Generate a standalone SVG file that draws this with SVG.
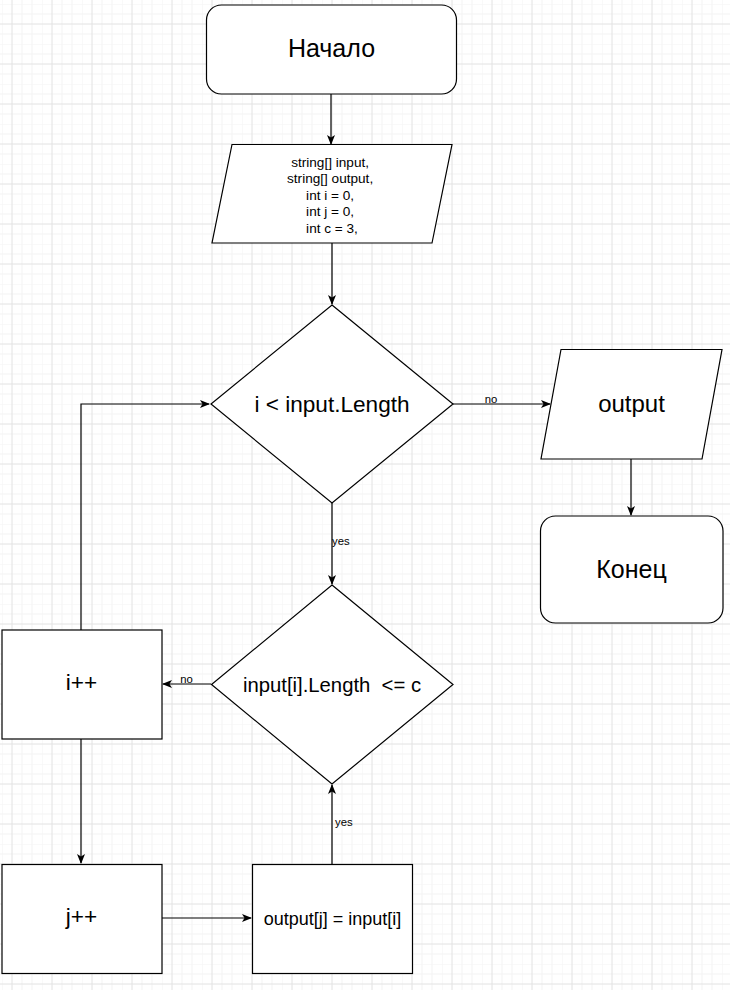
<svg xmlns="http://www.w3.org/2000/svg" width="730" height="990" viewBox="0 0 730 990">
<style>
.shape{fill:#ffffff;stroke:#000000;stroke-width:1.2}
.edge{fill:none;stroke:#000000;stroke-width:1.2}
.t{font-family:"Liberation Sans",Arial,sans-serif;fill:#000000;text-anchor:middle}
.lbl{font-family:"Liberation Sans",Arial,sans-serif;fill:#000000;font-size:11.3px}
</style>
<defs>
<pattern id="grid" patternUnits="userSpaceOnUse" x="2" y="4" width="40" height="40">
<path d="M0,0V40M20,0V40M30,0V40M0,0H40M0,10H40M0,30H40" stroke="#f3f3f3" stroke-width="1" fill="none"/>
<path d="M10,0V40M0,20H40" stroke="#e2e2e2" stroke-width="1" fill="none"/>
</pattern>
<marker id="arr" markerWidth="10" markerHeight="8" refX="9" refY="4" orient="auto" markerUnits="userSpaceOnUse">
<path d="M0,0L10,4L0,8L2.5,4Z" fill="#000000"/>
</marker>
</defs>
<rect x="0" y="0" width="730" height="990" fill="#ffffff"/>
<rect x="0" y="0" width="730" height="990" fill="url(#grid)"/>

<g id="connectors">
<path class="edge" d="M331,94V144" marker-end="url(#arr)"/>
<path class="edge" d="M332,243V304" marker-end="url(#arr)"/>
<path class="edge" d="M332,503V584" marker-end="url(#arr)"/>
<text class="lbl" x="332" y="545">yes</text>
<path class="edge" d="M453,404H550" marker-end="url(#arr)"/>
<text class="lbl" x="491" y="403" text-anchor="middle">no</text>
<path class="edge" d="M631,459V515" marker-end="url(#arr)"/>
<path class="edge" d="M211,684H163" marker-end="url(#arr)"/>
<text class="lbl" x="186.5" y="683" text-anchor="middle">no</text>
<path class="edge" d="M81,630V404H209" marker-end="url(#arr)"/>
<path class="edge" d="M81,739V863" marker-end="url(#arr)"/>
<path class="edge" d="M162,918H251" marker-end="url(#arr)"/>
<path class="edge" d="M332,864V785" marker-end="url(#arr)"/>
<text class="lbl" x="335" y="826">yes</text>
</g>

<g id="start">
<rect class="shape" x="206.5" y="5" width="250" height="89" rx="15" ry="15"/>
<text class="t" x="331.5" y="57" font-size="25">Начало</text>
</g>

<g id="init">
<polygon class="shape" points="232,144.5 452,144.5 432,243 212,243"/>
<text class="t" font-size="13.6">
<tspan x="332" y="166.5">string[] input,</tspan>
<tspan x="332" y="183">string[] output,</tspan>
<tspan x="332" y="199.5">int i = 0,</tspan>
<tspan x="332" y="216">int j = 0,</tspan>
<tspan x="332" y="232.5">int c = 3,</tspan>
</text>
</g>

<g id="cond1">
<polygon class="shape" points="332,305 453,404 332,503 211,404"/>
<text class="t" x="332" y="412" font-size="22.6">i &lt; input.Length</text>
</g>

<g id="out">
<polygon class="shape" points="561,349.5 722,349.5 702,459 541,459"/>
<text class="t" x="631.5" y="412" font-size="24">output</text>
</g>

<g id="end">
<rect class="shape" x="540.5" y="516" width="182.5" height="107" rx="15" ry="15"/>
<text class="t" x="631.5" y="578" font-size="25">Конец</text>
</g>

<g id="cond2">
<polygon class="shape" points="332,585 453,684.5 332,784 211.5,684.5"/>
<text class="t" x="332" y="692" font-size="20.3" xml:space="preserve">input[i].Length  &lt;= c</text>
</g>

<g id="inc_i">
<rect class="shape" x="2" y="630" width="160" height="109"/>
<text class="t" x="81.5" y="690" font-size="22.6">i++</text>
</g>

<g id="inc_j">
<rect class="shape" x="2" y="864.5" width="160" height="109"/>
<text class="t" x="81.5" y="923.5" font-size="22.6">j++</text>
</g>

<g id="assign">
<rect class="shape" x="252.5" y="864.5" width="160" height="109"/>
<text class="t" x="332.5" y="925" font-size="18">output[j] = input[i]</text>
</g>
</svg>
